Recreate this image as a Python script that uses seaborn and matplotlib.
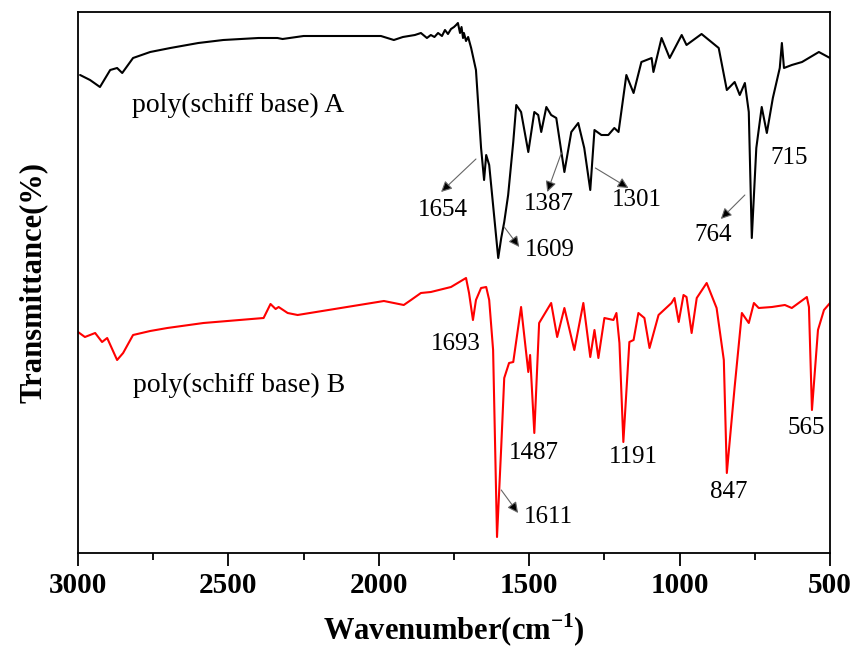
import matplotlib
matplotlib.use("Agg")
import matplotlib.pyplot as plt
import seaborn as sns
import pandas as pd

# ---------------- data (transmittance in arbitrary units) ----------------
wn_a = [2993, 2960, 2927, 2893, 2870, 2853, 2817, 2760, 2693, 2600, 2517, 2400, 2337, 2320,
        2250, 2100, 1993, 1950, 1920, 1880, 1860, 1840, 1827, 1815, 1803, 1790, 1780, 1770,
        1760, 1750, 1743, 1737, 1730, 1725, 1720, 1717, 1710, 1703, 1693, 1677, 1660, 1650,
        1643, 1633, 1603, 1593, 1583, 1570, 1553, 1543, 1527, 1503, 1483, 1470, 1460, 1443,
        1427, 1410, 1383, 1360, 1337, 1317, 1297, 1283, 1260, 1237, 1217, 1203, 1177, 1153,
        1127, 1093, 1087, 1060, 1033, 993, 977, 927, 870, 843, 817, 800, 783, 770, 760,
        745, 727, 710, 690, 667, 660, 653, 627, 593, 537, 500]
t_a = [478, 473, 466, 483, 485, 480, 495, 501, 505, 510, 513, 515, 515, 514,
       517, 517, 517, 513, 516, 518, 520, 515, 518, 516, 520, 517, 523, 519,
       524, 526, 528, 530, 520, 526, 515, 520, 512, 516, 505, 483, 405, 373,
       398, 388, 295, 315, 331, 358, 411, 448, 441, 401, 441, 438, 421, 446,
       438, 435, 381, 421, 430, 405, 363, 423, 418, 418, 425, 421, 478, 460,
       491, 495, 481, 515, 495, 518, 508, 519, 505, 463, 471, 458, 470, 441, 315,
       405, 446, 420, 455, 485, 510, 485, 488, 491, 501, 495]

wn_b = [3000, 2977, 2943, 2920, 2903, 2870, 2850, 2817, 2760, 2703, 2583, 2383, 2360, 2343,
        2333, 2303, 2270, 1983, 1950, 1917, 1893, 1860, 1827, 1760, 1710, 1700, 1687, 1677,
        1660, 1643, 1633, 1620, 1607, 1593, 1583, 1567, 1553, 1527, 1503, 1497, 1483, 1467,
        1427, 1407, 1383, 1350, 1320, 1297, 1283, 1270, 1250, 1220, 1210, 1200, 1187, 1167,
        1153, 1137, 1117, 1100, 1070, 1027, 1017, 1003, 987, 977, 960, 943, 910, 877, 853,
        843, 817, 793, 770, 753, 737, 693, 650, 627, 577, 570, 560, 540, 520, 500]
t_b = [221, 216, 220, 211, 215, 193, 200, 218, 222, 225, 230, 235, 249, 244,
       246, 240, 238, 252, 250, 248, 253, 260, 261, 266, 275, 260, 233, 253,
       265, 266, 253, 203, 16, 106, 175, 190, 191, 246, 181, 198, 120, 230,
       250, 216, 245, 203, 250, 196, 223, 195, 235, 233, 240, 210, 111, 211,
       213, 240, 235, 205, 238, 250, 255, 231, 258, 256, 220, 255, 270, 245, 193,
       80, 166, 240, 230, 250, 245, 246, 248, 245, 256, 246, 143, 223, 243, 250]

peak_labels = ["1654", "1609", "1387", "1301", "764", "715",
               "1693", "1487", "1191", "847", "565", "1611"]
series_names = ["poly(schiff base) A", "poly(schiff base) B"]
x_ticks = [3000, 2500, 2000, 1500, 1000, 500]

# ---------------- style ----------------
sns.set_theme(style="ticks")
plt.rcParams["font.family"] = ["Liberation Serif", "DejaVu Serif"]
plt.rcParams["mathtext.fontset"] = "custom"
plt.rcParams["mathtext.rm"] = "Liberation Serif:bold"
plt.rcParams["mathtext.bf"] = "Liberation Serif:bold"
plt.rcParams["text.color"] = "black"
plt.rcParams["axes.labelcolor"] = "black"
plt.rcParams["xtick.color"] = "black"

fig = plt.figure(figsize=(8.58, 6.53), dpi=100)
ax = fig.add_axes([78 / 858, 1 - 553 / 653, 752 / 858, 541 / 653])

df_a = pd.DataFrame({"wn": wn_a, "t": t_a})
df_b = pd.DataFrame({"wn": wn_b, "t": t_b})
sns.lineplot(data=df_a, x="wn", y="t", sort=False, estimator=None, color="black",
             linewidth=1.5, ax=ax)
sns.lineplot(data=df_b, x="wn", y="t", sort=False, estimator=None, color="#ff0000",
             linewidth=1.5, ax=ax)

ax.set_xlim(3000, 500)
ax.set_ylim(0, 541)
ax.set_xticks(x_ticks)
ax.set_xticks([2750, 2250, 1750, 1250, 750], minor=True)
ax.set_yticks([])
ax.tick_params(axis="x", which="major", direction="out", length=9, width=1.3,
               labelsize=21, pad=5, colors="black")
ax.tick_params(axis="x", which="minor", direction="out", length=5, width=1.3, colors="black")
for lab in ax.get_xticklabels():
    lab.set_fontweight("bold")
for sp in ax.spines.values():
    sp.set_visible(True)
    sp.set_linewidth(1.3)
    sp.set_color("black")

ax.set_xlabel("Wavenumber(cm$^{\\mathrm{-1}}$)", fontsize=22, fontweight="bold",
              labelpad=9, color="black")
ax.set_ylabel("Transmittance(%)", fontsize=22, fontweight="bold", labelpad=22,
              color="black")

# series labels
ax.text(2820, 448, series_names[0], fontsize=20, ha="left", va="center", color="black")
ax.text(2817, 168, series_names[1], fontsize=20, ha="left", va="center", color="black")

# peak labels: (text, text pos, arrow start, arrow end or None)
fs = 18
arrow_kw = dict(arrowstyle="-|>", lw=0.8, ec="#666666", fc="black",
                mutation_scale=16, shrinkA=0, shrinkB=0)

def label(txt, x, y, arrow=None):
    ax.text(x, y, txt, fontsize=fs, ha="center", va="center", color="black")
    if arrow is not None:
        (x0, y0), (x1, y1) = arrow
        ax.annotate("", xy=(x1, y1), xytext=(x0, y0), arrowprops=arrow_kw)

label(peak_labels[0], 1787, 343, ((1677, 394), (1793, 361)))
label(peak_labels[1], 1430, 303, ((1583, 326), (1533, 306)))
label(peak_labels[2], 1433, 349, ((1393, 400), (1440, 361)))
label(peak_labels[3], 1143, 353, ((1280, 385), (1170, 365)))
label(peak_labels[4], 890, 318, ((783, 358), (863, 334)))
label(peak_labels[5], 637, 395)
label(peak_labels[6], 1743, 209)
label(peak_labels[7], 1483, 100)
label(peak_labels[8], 1153, 96)
label(peak_labels[9], 837, 61)
label(peak_labels[10], 580, 125)
label(peak_labels[11], 1437, 36, ((1593, 63), (1537, 40)))

fig.savefig("out.png", dpi=100)
